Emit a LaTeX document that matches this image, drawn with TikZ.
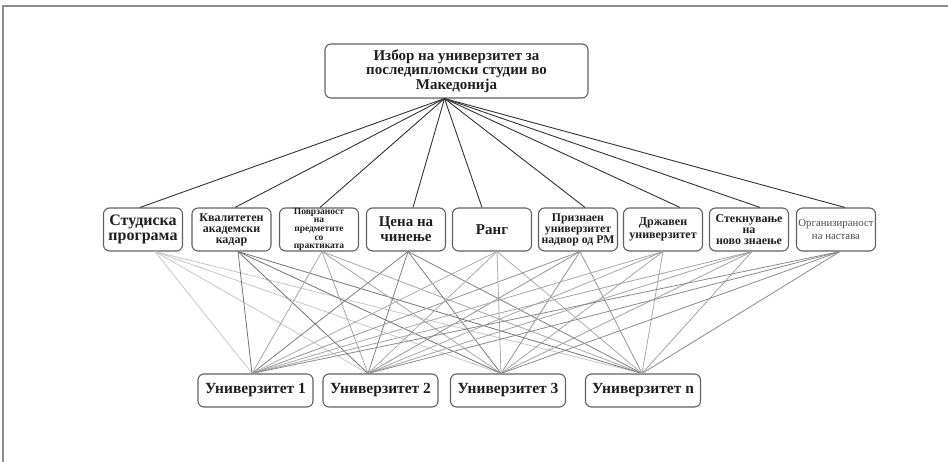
\documentclass[tikz,border=0pt]{standalone}
\usepackage{fontspec}
\setmainfont{Liberation Serif}
\begin{document}
\begin{tikzpicture}[x=1pt,y=-1pt,
  box/.style={draw=black!62, line width=1.1pt, rounded corners=6pt, fill=white, align=center, inner sep=0pt, text=black!88},
  midbox/.style={box, minimum width=79pt, minimum height=43pt},
  botbox/.style={box, minimum width=115pt, minimum height=33pt, font=\bfseries\fontsize{15.5}{16}\selectfont},
  topline/.style={draw=black!80, line width=0.9pt},
  lowline/.style={line width=0.8pt}
]
\useasboundingbox (0,0) rectangle (948,462);
\fill[white] (0,0) rectangle (948,462);
\draw[black!45, line width=1.6pt] (3,462) -- (3,6) -- (948,6);

% top node
\node[box, minimum width=263pt, minimum height=54pt, font=\bfseries\fontsize{15}{14.5}\selectfont] (top) at (456.5,71)
  {Избор на универзитет за\\последипломски студии во\\Македонија};

% middle nodes
\node[midbox, font=\bfseries\fontsize{16}{15.5}\selectfont] (m1) at (143,229.5) {Студиска\\програма};
\node[midbox, font=\bfseries\fontsize{12}{11}\selectfont] (m2) at (231.5,229.5) {Квалитетен\\академски\\кадар};
\node[midbox, font=\bfseries\fontsize{9.5}{8.6}\selectfont] (m3) at (319,229.5) {Поврзаност\\на\\предметите\\со\\практиката};
\node[midbox, font=\bfseries\fontsize{15}{15}\selectfont] (m4) at (406,229.5) {Цена на\\чинење};
\node[midbox, font=\bfseries\fontsize{15}{15}\selectfont] (m5) at (492,229.5) {Ранг};
\node[midbox, font=\bfseries\fontsize{11.8}{11}\selectfont] (m6) at (578,229.5) {Признаен\\универзитет\\надвор од РМ};
\node[midbox, font=\bfseries\fontsize{12}{12.5}\selectfont] (m7) at (663,229.5) {Државен\\универзитет};
\node[midbox, font=\bfseries\fontsize{12}{11}\selectfont] (m8) at (749,229.5) {Стекнување\\на\\ново знаење};
\node[midbox, font=\fontsize{10.8}{13}\selectfont, text=black!70] (m9) at (836,229.5) {Организираност\\на настава};

% bottom nodes
\node[botbox] (u1) at (255.5,390.5) {Универзитет 1};
\node[botbox] (u2) at (380.5,390.5) {Универзитет 2};
\node[botbox] (u3) at (508,390.5) {Универзитет 3};
\node[botbox] (u4) at (643,390.5) {Универзитет n};

% top connectors
\coordinate (tp) at ([xshift=-12pt]top.south);
\foreach \m/\dx in {m1/-3, m2/3.5, m3/1, m4/7, m5/-10, m6/7, m7/17, m8/11, m9/9}
  \draw[topline] (tp) -- ([xshift=\dx pt]\m.north);

% lower connectors
\foreach \m/\dx/\c in {m1/12/black!22, m2/6.5/black!55, m3/3/black!35, m4/2/black!50, m5/5/black!32, m6/2/black!42, m7/0/black!34, m8/3/black!36, m9/4/black!46}{
  \foreach \u/\ux in {u1/-3.5, u2/-12.5, u3/-7, u4/-1}
    \draw[lowline, draw=\c] ([xshift=\dx pt]\m.south) -- ([xshift=\ux pt]\u.north);
}
\end{tikzpicture}
\end{document}
